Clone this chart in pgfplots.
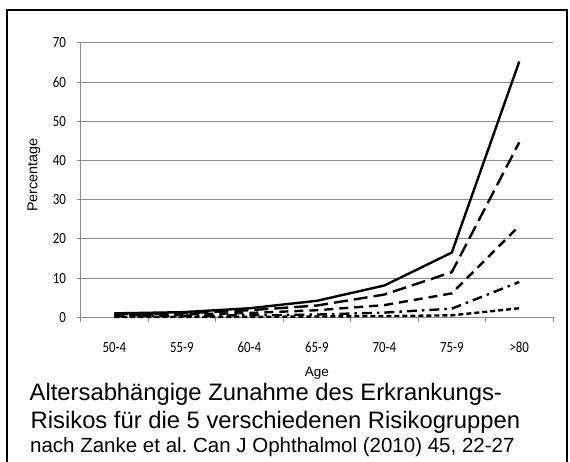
\documentclass[border=0pt]{standalone}
\usepackage{graphicx}
\usepackage{pgfplots}
\pgfplotsset{compat=1.18}
\usepackage{fontspec}
\setmainfont{Liberation Sans}
\newfontfamily\tickfont{Carlito}
\newcommand\tl[1]{\scalebox{0.83}[1]{\tickfont\fontsize{15.5pt}{15.5pt}\selectfont #1}}
\newcommand\agefnt{\fontsize{13.5pt}{14pt}\selectfont}
\newcommand\pctfnt{\fontsize{14.3pt}{15pt}\selectfont}
\newcommand\capfnt{\fontsize{23.8pt}{27pt}\selectfont}
\newcommand\reffnt{\fontsize{20.5pt}{22pt}\selectfont}
\definecolor{gridgray}{RGB}{140,140,140}
\begin{document}
\begin{tikzpicture}
\useasboundingbox (0,0) rectangle (570pt,462pt);
% outer frame
\draw[line width=2pt] (7pt,0pt) -- (7pt,452pt) -- (567pt,452pt) -- (567pt,0pt);
\begin{axis}[
  at={(80.7pt,144.7pt)}, anchor=south west,
  scale only axis, width=472.3pt, height=274.6pt,
  xmin=0, xmax=7, ymin=0, ymax=70,
  axis x line*=bottom, axis y line*=left,
  axis line style={gridgray, line width=0.8pt, -},
  ytick={0,10,...,70},
  yticklabel={\tl{\pgfmathprintnumber{\tick}}},
  ymajorgrids, grid style={gridgray, line width=0.8pt},
  xtick={0.5,1.5,2.5,3.5,4.5,5.5,6.5},
  xticklabels={\tl{50-4},\tl{55-9},\tl{60-4},\tl{65-9},\tl{70-4},\tl{75-9},\tl{>80}},
  minor xtick={0,1,...,7},
  major x tick style={draw=none},
  minor x tick style={gridgray, line width=0.8pt},
  minor tick length=5pt,
  major tick length=4pt,
  tick align=outside,
  major y tick style={gridgray, line width=0.8pt},
  /pgf/number format/assume math mode=true,
  tick label style={inner sep=0pt},
  xticklabel style={anchor=center, yshift=-26pt},
  yticklabel style={anchor=east, xshift=-10.7pt},
  xlabel={\agefnt Age},
  ylabel={\pctfnt Percentage},
  xlabel style={at={(axis description cs:0.5,-0.203)}, anchor=center, inner sep=0pt},
  ylabel style={at={(axis description cs:-0.099,0.518)}, anchor=center, inner sep=0pt},
  clip=false,
]
\addplot[black, line width=2.4pt] coordinates {(0.5,1.0) (1.5,1.3) (2.5,2.3) (3.5,4.2) (4.5,8.1) (5.5,16.5) (6.5,65.2)};
\addplot[black, line width=2.4pt, dash pattern=on 14pt off 6pt] coordinates {(0.5,0.8) (1.5,1.0) (2.5,1.8) (3.5,3.0) (4.5,5.8) (5.5,11.5) (6.5,44.6)};
\addplot[black, line width=2.4pt, dash pattern=on 9pt off 6pt] coordinates {(0.5,0.5) (1.5,0.7) (2.5,1.1) (3.5,1.8) (4.5,3.1) (5.5,6.1) (6.5,23.3)};
\addplot[black, line width=2.4pt, dash pattern=on 10pt off 5pt on 2.5pt off 5pt] coordinates {(0.5,0.3) (1.5,0.4) (2.5,0.5) (3.5,0.7) (4.5,1.2) (5.5,2.2) (6.5,9.0)};
\addplot[black, line width=2.4pt, dash pattern=on 5pt off 3pt] coordinates {(0.5,0.1) (1.5,0.1) (2.5,0.1) (3.5,0.2) (4.5,0.3) (5.5,0.5) (6.5,2.3)};
\end{axis}
\node[anchor=base west, inner sep=0pt, font=\capfnt] at (29.5pt,61pt) {Altersabhängige Zunahme des Erkrankungs-};
\node[anchor=base west, inner sep=0pt, font=\capfnt] at (30.5pt,33.7pt) {Risikos für die 5 verschiedenen Risikogruppen};
\node[anchor=base west, inner sep=0pt, font=\reffnt] at (30pt,9.3pt) {nach Zanke et al.\ Can J Ophthalmol (2010) 45, 22-27};
\end{tikzpicture}
\end{document}
